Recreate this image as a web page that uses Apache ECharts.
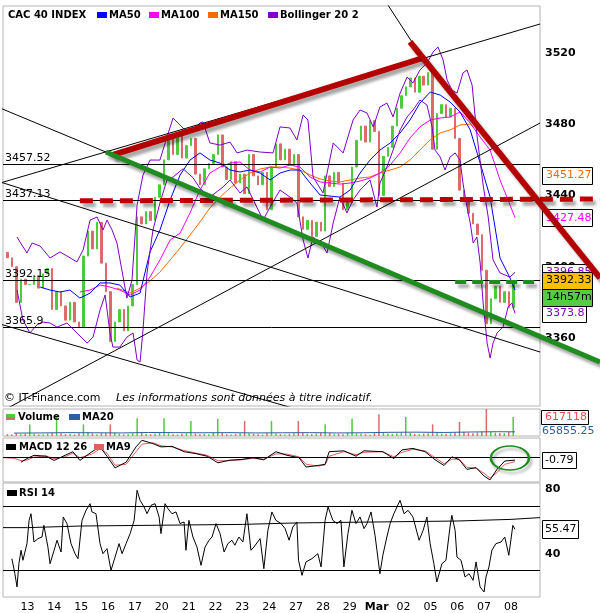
<!DOCTYPE html>
<html><head><meta charset="utf-8">
<script src="https://cdn.jsdelivr.net/npm/echarts@6/dist/echarts.min.js"></script>
<style>html,body{margin:0;padding:0;background:#fff}#c{width:600px;height:613px}</style>
</head><body><div id="c"></div>
<script>
// ---------- DATA ----------
const dayLabels = ['13','14','15','16','17','20','21','22','23','24','27','28','29','Mar','02','05','06','07','08'];
const barsPerDay = 6;
const feb10FirstSlot = 1;
const firstOpen = 3408;
// closes, 6 bars per session; first row = end of Fri 10 Feb, last row = 08 Mar (1 bar)
const closesByDay = [
  [3405, 3400, 3380, 3393, 3390],
  [3390, 3395, 3388, 3396, 3399, 3376],
  [3386, 3378, 3370, 3380, 3369, 3366],
  [3406, 3420, 3410, 3425, 3402, 3386],
  [3358, 3369, 3376, 3364, 3378, 3390],
  [3428, 3424, 3431, 3426, 3439, 3446],
  [3460, 3472, 3463, 3474, 3461, 3468],
  [3472, 3452, 3446, 3455, 3458, 3463],
  [3474, 3456, 3449, 3459, 3447, 3452],
  [3441, 3463, 3451, 3446, 3453, 3432],
  [3456, 3469, 3460, 3466, 3457, 3463],
  [3428, 3421, 3426, 3417, 3425, 3420],
  [3451, 3445, 3453, 3447, 3432, 3438],
  [3456, 3471, 3479, 3470, 3482, 3476],
  [3440, 3462, 3467, 3479, 3489, 3496],
  [3501, 3506, 3498, 3507, 3502, 3509],
  [3466, 3486, 3491, 3484, 3489, 3472],
  [3443, 3437, 3430, 3424, 3418, 3398],
  [3368, 3382, 3389, 3380, 3386, 3377],
  [3392.33]
];
// volume in thousands, same bars
const volumeByDay = [
  [60, 45, 90, 55, 70],
  [380, 70, 50, 60, 80, 110],
  [620, 90, 60, 70, 50, 90],
  [380, 120, 80, 60, 90, 100],
  [380, 110, 70, 50, 60, 90],
  [580, 130, 70, 60, 80, 100],
  [580, 90, 60, 50, 70, 90],
  [490, 80, 60, 70, 60, 110],
  [560, 100, 60, 50, 70, 90],
  [490, 90, 70, 60, 50, 100],
  [490, 80, 60, 50, 70, 90],
  [490, 100, 70, 60, 80, 110],
  [380, 90, 60, 70, 60, 100],
  [560, 80, 70, 60, 50, 90],
  [710, 120, 80, 70, 90, 110],
  [620, 100, 70, 60, 80, 90],
  [380, 110, 80, 70, 90, 120],
  [460, 130, 100, 90, 110, 150],
  [880, 140, 110, 100, 90, 130],
  [617.118]
];
const volumeMA20 = [[-0.5,95],[0.5,100],[1.5,110],[2.5,105],[3.5,100],[4.5,115],[5.5,110],[6.5,105],[7.5,110],[8.5,100],[9.5,105],[10.5,110],[11.5,100],[12.5,105],[13.5,120],[14.5,125],[15.5,115],[16.5,130],[17.5,140],[18.15,135]];

const ma50 = [[0.47,3388.6],[0.84,3386.9],[1.21,3385.8],[1.58,3386.9],[1.95,3382.4],[2.33,3385.2],[2.70,3390.9],[3.07,3390.9],[3.44,3389.7],[3.82,3383.0],[4.19,3385.2],[4.56,3408.3],[4.93,3420.6],[5.31,3437.5],[5.68,3451.5],[6.05,3459.9],[6.42,3463.9],[6.79,3459.9],[7.17,3458.2],[7.54,3454.3],[7.91,3453.2],[8.28,3454.3],[8.66,3452.6],[9.03,3448.7],[9.40,3452.6],[9.77,3454.3],[10.14,3454.3],[10.52,3447.0],[10.89,3440.3],[11.26,3439.7],[11.63,3439.1],[12.01,3443.1],[12.38,3452.6],[12.75,3459.9],[13.12,3465.5],[13.50,3469.5],[13.87,3475.1],[14.24,3482.4],[14.61,3491.9],[14.99,3498.1],[15.36,3496.4],[15.73,3492.5],[16.10,3486.9],[16.48,3476.8],[16.85,3458.2],[17.22,3439.1],[17.59,3404.9],[17.96,3393.7],[18.15,3386.9]];
const ma100 = [[1.95,3385.8],[2.33,3386.9],[2.70,3389.7],[3.07,3388.6],[3.44,3386.9],[3.82,3384.1],[4.19,3386.9],[4.56,3394.2],[4.93,3403.8],[5.31,3415.0],[5.68,3418.9],[6.05,3430.2],[6.42,3443.1],[6.79,3452.6],[7.17,3456.0],[7.54,3458.2],[7.91,3458.8],[8.28,3454.3],[8.66,3453.2],[9.03,3456.0],[9.40,3455.4],[9.77,3457.1],[10.14,3456.0],[10.52,3450.4],[10.89,3447.6],[11.26,3447.0],[11.63,3446.4],[12.01,3447.0],[12.38,3448.1],[12.75,3449.8],[13.12,3452.6],[13.50,3457.1],[13.87,3463.9],[14.24,3472.3],[14.61,3478.5],[14.99,3482.4],[15.36,3483.5],[15.73,3484.1],[16.10,3486.9],[16.48,3480.7],[16.85,3472.8],[17.22,3465.5],[17.59,3448.7],[17.96,3434.7],[18.15,3427.48]];
const ma150 = [[3.33,3388.0],[3.82,3385.2],[4.19,3388.0],[4.56,3392.0],[4.93,3397.0],[5.31,3403.8],[5.68,3410.5],[6.05,3417.8],[6.42,3425.1],[6.79,3433.0],[7.17,3439.1],[7.54,3444.2],[7.91,3448.7],[8.28,3452.6],[8.66,3454.9],[9.03,3456.0],[9.40,3456.0],[9.77,3455.4],[10.14,3454.3],[10.52,3451.5],[10.89,3449.3],[11.26,3448.1],[11.63,3447.6],[12.01,3448.7],[12.38,3449.8],[12.75,3450.4],[13.12,3452.6],[13.50,3454.3],[13.87,3456.0],[14.24,3460.0],[14.61,3465.5],[14.99,3471.2],[15.36,3475.1],[15.73,3476.8],[16.10,3479.6],[16.48,3480.1],[16.59,3478.5]];
const bollUpper = [[-0.39,3416.7],[-0.28,3413.9],[-0.02,3407.7],[0.17,3413.3],[0.47,3411.6],[0.84,3404.9],[1.21,3408.3],[1.47,3406.0],[1.84,3402.7],[2.07,3409.4],[2.33,3426.2],[2.59,3427.9],[2.81,3420.6],[2.96,3426.2],[3.15,3420.6],[3.33,3413.3],[3.56,3394.2],[3.70,3382.4],[3.89,3392.5],[4.08,3434.7],[4.30,3451.5],[4.56,3459.9],[4.93,3459.9],[5.19,3472.8],[5.42,3483.5],[5.60,3480.7],[5.86,3476.8],[6.05,3475.1],[6.42,3480.7],[6.53,3481.3],[6.79,3469.5],[7.17,3468.3],[7.54,3470.0],[7.80,3463.9],[8.17,3465.5],[8.66,3464.4],[9.14,3463.9],[9.40,3478.5],[9.77,3477.9],[10.03,3471.2],[10.26,3485.2],[10.44,3482.4],[10.63,3450.4],[11.00,3441.4],[11.38,3469.5],[11.75,3463.9],[12.12,3482.4],[12.38,3488.0],[12.64,3486.3],[12.87,3478.5],[13.12,3489.7],[13.38,3491.9],[13.61,3484.1],[13.87,3497.5],[14.13,3506.5],[14.35,3503.2],[14.61,3510.5],[14.87,3514.4],[15.10,3520.6],[15.28,3523.4],[15.47,3516.1],[15.62,3504.8],[15.80,3499.2],[15.99,3497.5],[16.21,3508.8],[16.36,3510.5],[16.55,3502.0],[16.73,3474.0],[16.96,3445.9],[17.15,3427.9],[17.33,3403.8],[17.59,3396.5],[17.96,3394.2],[18.15,3396.85]];
const bollLower = [[-0.39,3386.9],[-0.17,3370.1],[0.09,3362.8],[0.35,3367.3],[0.58,3368.9],[0.84,3368.4],[1.10,3366.1],[1.47,3368.4],[1.84,3362.8],[2.22,3357.1],[2.44,3360.5],[2.70,3375.7],[2.89,3384.1],[3.07,3362.8],[3.18,3354.9],[3.44,3354.9],[3.70,3360.5],[3.93,3362.8],[4.08,3347.6],[4.19,3346.5],[4.30,3364.5],[4.45,3396.5],[4.67,3420.6],[4.93,3435.8],[5.19,3448.7],[5.42,3450.4],[5.79,3455.0],[6.16,3450.0],[6.42,3444.0],[6.79,3439.1],[7.28,3444.8],[7.54,3448.7],[7.91,3441.4],[8.17,3444.8],[8.77,3426.2],[9.03,3433.5],[9.40,3443.1],[9.77,3439.1],[10.03,3435.8],[10.26,3415.0],[10.44,3404.9],[10.63,3416.7],[11.00,3411.6],[11.15,3407.7],[11.38,3424.6],[11.63,3439.1],[11.89,3430.2],[12.12,3437.5],[12.38,3443.1],[12.75,3448.7],[13.01,3433.5],[13.12,3447.0],[13.38,3456.0],[13.61,3465.5],[13.87,3476.8],[14.13,3484.1],[14.35,3488.0],[14.61,3493.6],[14.87,3490.8],[15.06,3478.5],[15.17,3465.5],[15.36,3461.6],[15.54,3454.3],[15.73,3461.6],[15.92,3463.9],[16.10,3459.9],[16.21,3447.0],[16.36,3433.5],[16.48,3424.6],[16.59,3413.3],[16.73,3416.7],[16.85,3402.1],[16.96,3379.6],[17.11,3357.1],[17.22,3348.7],[17.33,3357.1],[17.48,3362.8],[17.70,3366.1],[17.89,3377.4],[18.03,3379.6],[18.15,3373.8]];
const levelLines = [3457.52, 3437.13, 3392.15, 3365.9];
const macdLine = [[-0.24,-1.5],[-0.02,-0.3],[0.24,0.8],[0.69,0.5],[0.99,-0.9],[1.40,0.8],[1.69,2.0],[1.95,-0.9],[2.40,2.0],[2.70,3.6],[2.96,0.5],[3.26,-3.4],[3.67,-1.5],[4.04,3.6],[4.26,5.8],[4.67,4.7],[4.97,3.6],[5.38,3.8],[5.83,2.0],[6.24,1.4],[6.69,0.5],[7.09,-1.7],[7.54,-0.8],[7.95,-0.6],[8.40,0.0],[8.80,-0.7],[9.25,2.0],[9.66,0.8],[10.11,0.0],[10.37,-3.1],[10.81,-2.6],[11.08,-2.2],[11.23,2.0],[11.78,2.3],[12.23,0.5],[12.53,2.3],[13.23,2.0],[13.64,-0.3],[13.94,2.6],[14.35,3.1],[14.80,2.0],[15.21,-0.9],[15.51,-2.6],[15.80,0.3],[16.07,-0.6],[16.36,-3.9],[16.70,-3.3],[17.00,-6.1],[17.22,-7.4],[17.48,-3.9],[17.77,-1.1],[18.15,-0.79]];
const macdMA9 = [[-0.9,0.0],[-0.5,-0.2],[-0.24,-1.0],[-0.02,-0.8],[0.24,0.2],[0.69,0.6],[0.99,-0.3],[1.40,0.3],[1.69,1.5],[1.95,0.0],[2.40,1.2],[2.70,3.0],[2.96,1.5],[3.26,-2.5],[3.67,-2.2],[4.04,2.0],[4.26,4.5],[4.67,5.0],[4.97,4.0],[5.38,3.6],[5.83,2.4],[6.24,1.6],[6.69,0.8],[7.09,-1.0],[7.54,-1.0],[7.95,-0.7],[8.40,-0.2],[8.80,-0.5],[9.25,1.3],[9.66,1.2],[10.11,0.3],[10.37,-2.2],[10.81,-2.8],[11.08,-2.4],[11.23,0.5],[11.78,2.0],[12.23,1.0],[12.53,1.8],[13.23,2.0],[13.64,0.3],[13.94,1.8],[14.35,2.8],[14.80,2.3],[15.21,-0.2],[15.51,-2.0],[15.80,-0.5],[16.07,-0.5],[16.36,-3.2],[16.70,-3.5],[17.00,-5.2],[17.22,-6.8],[17.48,-5.0],[17.77,-2.2],[18.15,-1.3]];
const rsi14 = [[-0.58,37.3],[-0.47,28],[-0.39,19.8],[-0.32,34.2],[-0.24,42.5],[-0.17,36.3],[-0.02,46.6],[0.06,61],[0.13,65.1],[0.20,54.8],[0.24,47.6],[0.39,49.7],[0.54,50.7],[0.61,57.9],[0.76,44.5],[0.84,34.2],[0.99,42.5],[1.10,48.7],[1.25,41.4],[1.33,63.1],[1.47,59],[1.62,46.6],[1.77,40.4],[1.88,37.3],[2.03,61],[2.18,67.2],[2.33,71.3],[2.40,66.2],[2.55,65.1],[2.70,46.6],[2.81,40.4],[2.96,43.5],[3.11,30.1],[3.26,38.3],[3.41,46.6],[3.52,40.4],[3.67,46.6],[3.82,52.8],[3.97,61],[4.08,79.6],[4.19,73.4],[4.34,69.3],[4.45,65.1],[4.60,70.3],[4.75,71.3],[4.90,63.1],[4.97,52.8],[5.12,71.3],[5.23,68.2],[5.38,65.1],[5.53,66.2],[5.68,59],[5.83,60],[5.90,42.5],[6.01,61],[6.16,50.7],[6.31,44.5],[6.46,33.2],[6.61,44.5],[6.76,48.7],[6.87,50.7],[7.02,59],[7.17,52.8],[7.32,41.4],[7.46,46.6],[7.61,48.7],[7.72,45.6],[7.87,50.7],[8.02,47.6],[8.17,65.1],[8.32,42.5],[8.43,44.5],[8.66,49.7],[8.80,31.1],[8.95,54.8],[9.10,66.2],[9.25,61],[9.44,59],[9.59,55.9],[9.74,48.7],[9.88,56.9],[10.03,60],[10.09,36.3],[10.22,27],[10.37,35.3],[10.59,37.3],[10.81,40.4],[10.93,32.2],[11.08,61],[11.19,69.3],[11.37,61],[11.52,59],[11.67,61],[11.78,32.2],[11.93,52.8],[12.08,67.2],[12.23,59],[12.38,63.1],[12.53,55.9],[12.64,59],[12.79,66.2],[12.94,51.7],[13.01,42.5],[13.12,28],[13.23,39.4],[13.38,50.7],[13.50,59],[13.64,65.1],[13.87,73.4],[14.02,65.1],[14.17,67.2],[14.35,63.1],[14.58,48.7],[14.73,54.8],[14.87,63.1],[14.99,46.6],[15.13,34.2],[15.24,22.9],[15.43,34.2],[15.58,36.3],[15.73,56.9],[15.80,64.1],[15.92,54.8],[15.99,38.3],[16.14,36.3],[16.29,26],[16.44,28],[16.59,23.9],[16.70,35.3],[16.85,19.8],[17.00,16.7],[17.07,26],[17.18,32.2],[17.29,42.5],[17.44,46.6],[17.63,47.6],[17.77,50.7],[17.92,39.4],[18.07,57.9],[18.15,55.47]];
const rsiSignal = [[-0.912,56.5],[0,57.5],[2,58.5],[8,59.4],[10,60.6],[16,61.6],[18,62.7],[19.08,62.7]];
const rsiLevels = [70, 30];

// hand-drawn trend lines, [day, price]
const redRise = [[3.15,3462.7],[14.72,3517.2]];
const redFall = [[14.24,3526.2],[21.31,3393.7]];
const redDash = [[1.95,3437.0],[21.31,3438.0]];
const greenLine = [[2.92,3464.4],[21.31,3346.5]];
const greenDash = [[15.92,3391.4],[19.08,3391.4]];
const thinLines = [
  [[-1.02,3489.1],[2.92,3464.4]],
  [[-1.02,3447.0],[19.08,3536.3]],
  [[-1.02,3447.6],[19.08,3352.1]],
  [[-1.02,3367.8],[10.14,3319.5]],
  [[-0.73,3320.7],[19.08,3480.7]],
  [[13.42,3546.9],[14.31,3526.2]]
];
// value tags
const tagMA150 = 3451.27, tagMA100 = 3427.48, tagBollUp = 3396.85, tagLast = 3392.33, tagBollLow = 3373.8;
const tagTime = '14h57m';
const lastVolume = 617118, lastVolMA = '65855.25', lastMacd = -0.79, lastRsi = 55.47;

// ---------- CHART ----------
const FONT = '"DejaVu Sans", Verdana, sans-serif';
const X_MIN = -0.912, X_MAX = 19.081;
const X_MAX_WIDE = 21.311; // main drawing area extends to page edge (x=600)
const UP = '#4ccc3c', DOWN = '#dc6a6a';

const candles = [], vols = [];
let prev = firstOpen;
closesByDay.forEach((arr, di) => {
  const start = di === 0 ? feb10FirstSlot : 0;
  arr.forEach((c, j) => {
    const d = (di - 1) + (start + j + 0.5) / barsPerDay;
    candles.push([d, prev, c, Math.min(prev, c), Math.max(prev, c)]);
    vols.push({value: [d, volumeByDay[di][j]], itemStyle: {color: c >= prev ? UP : DOWN}});
    prev = c;
  });
});

const shadow = {shadowColor: 'rgba(0,0,0,0.35)', shadowBlur: 3, shadowOffsetX: 3, shadowOffsetY: 4};
function seg(data, style, z) {
  return {type: 'line', xAxisIndex: 0, yAxisIndex: 0, data, symbol: 'none', silent: true, z: z || 4,
    lineStyle: style};
}
function mainLine(data, color, z) {
  return {type: 'line', xAxisIndex: 0, yAxisIndex: 0, data, symbol: 'none', silent: true, z: z || 3,
    lineStyle: {color, width: 1}};
}
const hidden = {show: false};
const xAxes = [0, 1, 2, 3].map(i => ({
  type: 'value', gridIndex: i, min: X_MIN, max: i === 0 ? X_MAX_WIDE : X_MAX,
  axisLine: hidden, axisTick: hidden, splitLine: hidden,
  axisLabel: i === 3 ? {
    customValues: dayLabels.map((_, k) => k),
    formatter: v => { const s = dayLabels[Math.round(v)]; return s === 'Mar' ? '{b|Mar}' : s; },
    rich: {b: {fontWeight: 'bold', fontFamily: FONT, fontSize: 11, color: '#000'}},
    fontFamily: FONT, fontSize: 11, color: '#000', margin: 5
  } : {show: false}
}));
xAxes.push({type: 'value', gridIndex: 4, show: false});
const boldLbl = {fontWeight: 'bold', fontFamily: FONT, fontSize: 11, color: '#000', margin: 5, formatter: v => String(v)};
const option = {
  animation: false,
  backgroundColor: '#fff',
  grid: [
    {left: 3, width: 597, top: 6, height: 400, show: false},
    {left: 3, width: 537, top: 409, height: 27, show: true, borderColor: '#b4b4b4', borderWidth: 1},
    {left: 3, width: 537, top: 438, height: 44, show: true, borderColor: '#b4b4b4', borderWidth: 1},
    {left: 3, width: 537, top: 483, height: 114, show: true, borderColor: '#b4b4b4', borderWidth: 1},
    {left: 3, width: 537, top: 6, height: 400, show: true, borderColor: '#b4b4b4', borderWidth: 1, z: 0}
  ],
  xAxis: xAxes,
  yAxis: [
    {type: 'value', gridIndex: 0, position: 'right', offset: -60, min: 3321.8, max: 3546.4, axisLine: hidden, axisTick: hidden, splitLine: hidden,
      axisLabel: Object.assign({customValues: [3360, 3400, 3440, 3480, 3520]}, boldLbl)},
    {type: 'value', gridIndex: 1, min: 0, max: 880, show: false},
    {type: 'value', gridIndex: 2, min: -8.1, max: 6.57, show: false},
    {type: 'value', gridIndex: 3, position: 'right', min: 13.6, max: 84.1, axisLine: hidden, axisTick: hidden, splitLine: hidden,
      axisLabel: Object.assign({customValues: [40, 80]}, boldLbl)},
    {type: 'value', gridIndex: 4, show: false}
  ],
  series: [
    {type: 'candlestick', xAxisIndex: 0, yAxisIndex: 0, data: candles, barWidth: 2, z: 2,
      encode: {x: 0, y: [1, 2, 3, 4]},
      itemStyle: {color: UP, color0: DOWN, borderColor: UP, borderColor0: DOWN, borderWidth: 1},
      markLine: {silent: true, symbol: ['none', 'none'], animation: false,
        lineStyle: {color: '#000', width: 1, type: 'solid'},
        label: {position: 'insideStartTop', formatter: p => String(p.data.lvl), fontFamily: FONT, fontSize: 11, color: '#000', distance: [2, 1]},
        data: levelLines.map(v => [{coord: [X_MIN, v], lvl: v}, {coord: [X_MAX, v]}])}},
    mainLine(ma150, '#ff6a00'),
    mainLine(ma100, '#ff00ff'),
    mainLine(ma50, '#0000ff'),
    mainLine(bollUpper, '#8000c8'),
    mainLine(bollLower, '#8000c8'),
    ...thinLines.map(l => seg(l, {color: '#000', width: 1}, 4)),
    seg(redDash, Object.assign({color: '#c00000', width: 5, type: [13, 7]}, shadow), 20),
    seg(greenDash, Object.assign({color: '#1e8c1e', width: 4, type: [11, 6]}, shadow), 20),
    seg(redRise, Object.assign({color: '#b40000', width: 6}, shadow), 21),
    seg(redFall, Object.assign({color: '#b40000', width: 6}, shadow), 21),
    seg(greenLine, Object.assign({color: '#1e8c1e', width: 5}, shadow), 21),
    {type: 'bar', xAxisIndex: 1, yAxisIndex: 1, data: vols, barWidth: 1.5, silent: true},
    {type: 'line', xAxisIndex: 1, yAxisIndex: 1, data: volumeMA20, symbol: 'none', silent: true, lineStyle: {color: '#2e5fa0', width: 1}},
    {type: 'line', xAxisIndex: 2, yAxisIndex: 2, data: macdMA9, symbol: 'none', silent: true, lineStyle: {color: '#e06060', width: 1}},
    {type: 'line', xAxisIndex: 2, yAxisIndex: 2, data: macdLine, symbol: 'none', silent: true, lineStyle: {color: '#000', width: 1},
      markLine: {silent: true, symbol: ['none', 'none'], label: {show: false}, lineStyle: {color: '#000', width: 1, type: 'solid'}, data: [{yAxis: 0}]}},
    {type: 'line', xAxisIndex: 3, yAxisIndex: 3, data: rsiSignal, step: 'end', symbol: 'none', silent: true, lineStyle: {color: '#000', width: 1}},
    {type: 'line', xAxisIndex: 3, yAxisIndex: 3, data: rsi14, symbol: 'none', silent: true, lineStyle: {color: '#000', width: 1},
      markLine: {silent: true, symbol: ['none', 'none'], label: {show: false}, lineStyle: {color: '#000', width: 1, type: 'solid'}, data: rsiLevels.map(v => ({yAxis: v}))}}
  ]
};
const chart = echarts.init(document.getElementById('c'));
chart.setOption(option);

// ---------- TEXT & TAGS ----------
const g = [];
function txt(x, y, text, o) {
  o = o || {};
  g.push({type: 'text', x, y, z: o.z || 6, silent: true, style: {text, fontFamily: FONT, fontSize: o.size || 11,
    fontWeight: o.bold ? 'bold' : 'normal', fontStyle: o.italic ? 'italic' : 'normal',
    fill: o.fill || '#000', align: o.align || 'left', verticalAlign: 'middle'}});
}
function rect(x, y, w, h, fill, stroke, z) {
  g.push({type: 'rect', z: z || 6, silent: true, shape: {x, y, width: w, height: h},
    style: {fill: fill || '#fff', stroke: stroke || null, lineWidth: stroke ? 1 : 0}});
}
// header legend
txt(8, 15, 'CAC 40 INDEX', {bold: true, size: 10});
[['MA50', '#0000ff', 97], ['MA100', '#ff00ff', 149], ['MA150', '#ff6a00', 208], ['Bollinger 20 2', '#8000c8', 268]].forEach(([t, c, x]) => {
  rect(x, 12, 10, 6, c); txt(x + 12, 15, t, {bold: true, size: 10});
});
txt(4, 398, '© IT-Finance.com');
txt(116, 398, 'Les informations sont données à titre indicatif.', {italic: true});
// volume legend
rect(6, 414, 9, 3, UP); rect(6, 417, 9, 3, DOWN);
txt(18, 417, 'Volume', {bold: true, size: 10});
rect(69, 414, 11, 6, '#2e5fa0'); txt(82, 417, 'MA20', {bold: true, size: 10});
// macd legend
rect(6, 444, 10, 6, '#000'); txt(19, 447, 'MACD 12 26', {bold: true, size: 10});
rect(94, 444, 10, 6, '#e06060'); txt(106, 447, 'MA9', {bold: true, size: 10});
// rsi legend
rect(7, 490, 10, 6, '#000'); txt(19, 493, 'RSI 14', {bold: true, size: 10});

const py = (gi, v) => chart.convertToPixel({gridIndex: gi}, [0, v])[1];
function tag(v, label, color, bg, w, z) {
  const y = py(0, v);
  rect(542.5, Math.round(y - 8.5) + 0.5, w || 50, 17, bg || '#fff', '#000', z || 7);
  txt(546, y, label, {fill: color, z: (z || 7) + 1});
  return y;
}
tag(tagMA150, tagMA150.toFixed(2), '#ff6a00');
tag(tagMA100, tagMA100.toFixed(2), '#ff00ff');
tag(tagBollUp, tagBollUp.toFixed(2), '#8000c8', '#fff', 50, 7);
const yl = tag(tagLast, tagLast.toFixed(2), '#000', '#ffbf00', 50, 9);
rect(542.5, Math.round(yl - 8.5) + 17.5, 50, 17, '#55cc44', '#000', 9);
txt(546, yl + 17, tagTime, {z: 10});
tag(tagBollLow, tagBollLow.toFixed(1), '#8000c8', '#fff', 44, 7);
// volume tags
const yv = chart.convertToPixel({gridIndex: 1}, [0, lastVolume / 1000])[1];
txt(542, 431, lastVolMA, {fill: '#2e5fa0', z: 6});
rect(541.5, Math.round(yv - 7) + 0.5, 47, 14, '#fff', '#000', 7);
txt(545, yv, String(lastVolume), {fill: '#e05050', z: 8});
// macd tag
const ym = py(2, lastMacd);
rect(542.5, Math.round(ym - 8) + 0.5, 34, 16, '#fff', '#000', 7);
txt(545, ym, lastMacd.toFixed(2), {z: 8});
// rsi tag
const yr = py(3, lastRsi);
rect(542.5, Math.round(yr - 9) + 0.5, 36, 18, '#fff', '#000', 7);
txt(545, yr, lastRsi.toFixed(2), {z: 8});
// ellipse annotation on MACD
const ec = chart.convertToPixel({gridIndex: 2}, [17.96, -0.1]);
g.push({type: 'circle', x: ec[0], y: ec[1], scaleY: 0.63, z: 20, silent: true, shape: {cx: 0, cy: 0, r: 19},
  style: {fill: 'none', stroke: '#1e8c1e', lineWidth: 2.5, strokeNoScale: true,
    shadowColor: 'rgba(0,0,0,0.35)', shadowBlur: 3, shadowOffsetX: 2, shadowOffsetY: 3}});
chart.setOption({graphic: {elements: g}});
</script>
</body></html>
